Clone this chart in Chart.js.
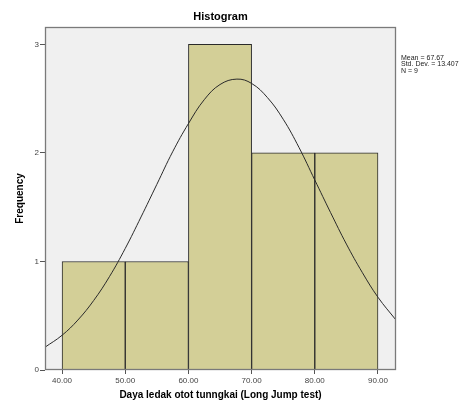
<!DOCTYPE html>
<html>
<head>
<meta charset="utf-8">
<script src="https://cdn.jsdelivr.net/npm/chart.js@4"></script>
<style>
  html, body { margin: 0; padding: 0; background: #fff; }
  #wrap { width: 474px; height: 409px; }
</style>
</head>
<body>
<div id="wrap"><canvas id="canvas" width="474" height="409"></canvas></div>
<script>
// histogram bins (centres) and counts
var binCenters = [45, 55, 65, 75, 85];
var binCounts = [1, 1, 3, 2, 2];
var xTicks = [40, 50, 60, 70, 80, 90];
var yTicks = [0, 1, 2, 3];

// normal curve
var curveX = [37.3, 40, 42.5, 45, 47.5, 50, 52.5, 55, 57.5, 60, 62.5, 65, 67.67,
    70, 72.5, 75, 77.5, 80, 82.5, 85, 87.5, 90, 92.85];
var curveY = [0.21, 0.32, 0.46, 0.64, 0.86, 1.12, 1.41, 1.71, 2.01, 2.27, 2.49, 2.63, 2.68,
    2.64, 2.51, 2.31, 2.05, 1.75, 1.45, 1.16, 0.90, 0.67, 0.46];

var statsLines = ['Mean = 67.67', 'Std. Dev. = 13.407', 'N = 9'];

var FONT = '"Liberation Sans", Arial, sans-serif';

var frame = {
    id: 'frame',
    beforeDatasetsDraw: function(chart) {
        var c = chart.ctx, a = chart.chartArea;
        c.save();
        c.fillStyle = '#f0f0f0';
        c.fillRect(a.left, a.top, a.right - a.left, a.bottom - a.top);
        c.restore();
    },
    afterDraw: function(chart) {
        var c = chart.ctx, a = chart.chartArea;
        c.save();
        c.strokeStyle = '#7a7a7a';
        c.lineWidth = 1.3;
        c.strokeRect(a.left + 0.5, a.top + 0.5, a.right - a.left - 1, a.bottom - a.top - 1);
        c.fillStyle = '#000';
        c.font = 'bold 11px ' + FONT;
        c.textAlign = 'center';
        c.textBaseline = 'middle';
        c.fillText('Histogram', (a.left + a.right) / 2, 17);
        c.font = '7px ' + FONT;
        c.fillStyle = '#222';
        c.textAlign = 'left';
        for (var i = 0; i < statsLines.length; i++) {
            c.fillText(statsLines[i], a.right + 5, 58 + i * 6.5);
        }
        c.restore();
    }
};

var ctx = document.getElementById('canvas').getContext('2d');
new Chart(ctx, {
    type: 'bar',
    data: {
        datasets: [{
            type: 'line',
            data: curveX.map(function(x, i) { return {x: x, y: curveY[i]}; }),
            borderColor: '#2a2a2a',
            borderWidth: 1,
            pointRadius: 0,
            tension: 0.4,
            fill: false,
            order: 0
        }, {
            type: 'bar',
            data: binCenters.map(function(x, i) { return {x: x, y: binCounts[i]}; }),
            backgroundColor: '#d3cf97',
            borderColor: '#2a2a2a',
            borderWidth: 1,
            barPercentage: 1,
            categoryPercentage: 1,
            grouped: false,
            order: 1
        }]
    },
    options: {
        responsive: false,
        animation: false,
        layout: { padding: { top: 27, right: 78, left: 0, bottom: 0 } },
        plugins: { legend: { display: false }, tooltip: { enabled: false } },
        scales: {
            x: {
                type: 'linear',
                min: 37.3,
                max: 92.85,
                offset: false,
                grid: { offset: false, drawOnChartArea: false, drawTicks: true, tickLength: 4, color: '#555' },
                border: { display: false },
                afterBuildTicks: function(s) { s.ticks = xTicks.map(function(v) { return {value: v}; }); },
                afterFit: function(s) { s.height = 39; },
                ticks: {
                    maxRotation: 0,
                    autoSkip: false,
                    padding: 2,
                    color: '#444',
                    font: { family: FONT, size: 8 },
                    callback: function(v) { return Number(v).toFixed(2); }
                },
                title: {
                    display: true,
                    text: 'Daya ledak otot tunngkai (Long Jump test)',
                    color: '#000',
                    font: { family: FONT, size: 10, weight: 'bold' },
                    padding: { top: 0, bottom: 8 }
                }
            },
            y: {
                min: 0,
                max: 3.16,
                grid: { drawOnChartArea: false, drawTicks: true, tickLength: 5, color: '#555' },
                border: { display: false },
                afterBuildTicks: function(s) { s.ticks = yTicks.map(function(v) { return {value: v}; }); },
                afterFit: function(s) { s.width = 45; },
                ticks: {
                    padding: 1,
                    color: '#444',
                    font: { family: FONT, size: 8 }
                },
                title: {
                    display: true,
                    text: 'Frequency',
                    color: '#000',
                    font: { family: FONT, size: 10, weight: 'bold' },
                    padding: { top: 14, bottom: 0 }
                }
            }
        }
    },
    plugins: [frame]
});
</script>
</body>
</html>
